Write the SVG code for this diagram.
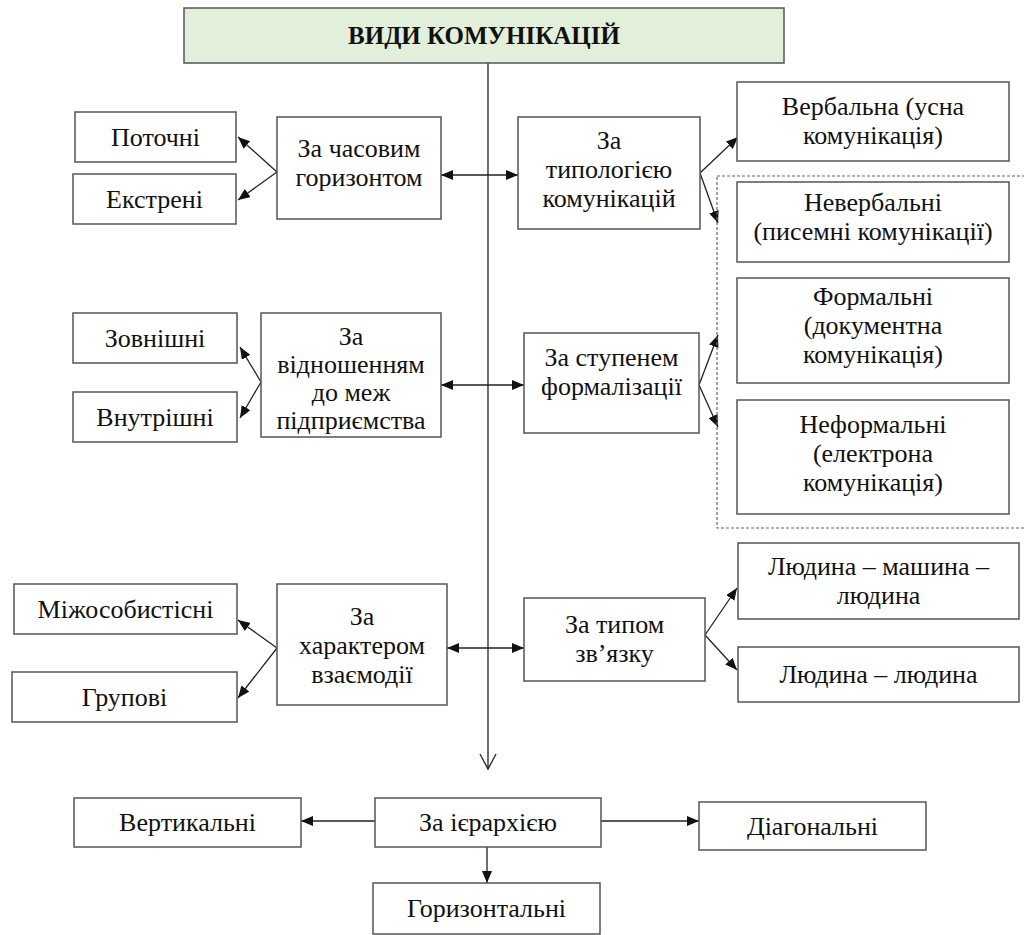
<svg xmlns="http://www.w3.org/2000/svg" width="1024" height="935" viewBox="0 0 1024 935">
<style>
.b{fill:#fff;stroke:#555;stroke-width:1.5}
.c{fill:none;stroke:#222;stroke-width:1.3}
</style>
<defs>
<marker id="a" viewBox="0 0 12 10" refX="12" refY="5" markerWidth="12" markerHeight="10" orient="auto-start-reverse" markerUnits="userSpaceOnUse"><path d="M0,0 L12,5 L0,10 z" fill="#111"/></marker>
</defs>
<rect width="1024" height="935" fill="#fff"/>

<g id="connectors">
<line class="c" x1="488" y1="63" x2="488" y2="769"/>
<polyline class="c" points="480,754 488,769 496,754"/>
<line class="c" x1="441" y1="175" x2="518" y2="175" marker-start="url(#a)" marker-end="url(#a)"/>
<line class="c" x1="441" y1="385" x2="524" y2="385" marker-start="url(#a)" marker-end="url(#a)"/>
<line class="c" x1="447" y1="648" x2="524" y2="648" marker-start="url(#a)" marker-end="url(#a)"/>
<line class="c" x1="277" y1="172" x2="238" y2="137" marker-end="url(#a)"/>
<line class="c" x1="277" y1="172" x2="238" y2="200" marker-end="url(#a)"/>
<line class="c" x1="700" y1="173" x2="738" y2="137" marker-end="url(#a)"/>
<line class="c" x1="700" y1="173" x2="718" y2="223" marker-end="url(#a)"/>
<line class="c" x1="261" y1="382" x2="240" y2="347" marker-end="url(#a)"/>
<line class="c" x1="261" y1="382" x2="240" y2="418" marker-end="url(#a)"/>
<line class="c" x1="699" y1="385" x2="718" y2="335" marker-end="url(#a)"/>
<line class="c" x1="699" y1="385" x2="718" y2="427" marker-end="url(#a)"/>
<line class="c" x1="277" y1="648" x2="238" y2="620" marker-end="url(#a)"/>
<line class="c" x1="277" y1="648" x2="238" y2="698" marker-end="url(#a)"/>
<line class="c" x1="705" y1="635" x2="737" y2="588" marker-end="url(#a)"/>
<line class="c" x1="705" y1="635" x2="737" y2="670" marker-end="url(#a)"/>
<line class="c" x1="375" y1="821" x2="301" y2="821" marker-end="url(#a)"/>
<line class="c" x1="601" y1="821" x2="699" y2="821" marker-end="url(#a)"/>
<line class="c" x1="487" y1="847" x2="487" y2="883" marker-end="url(#a)"/>
</g>

<g id="dashed-group">
<rect x="717" y="176" width="320" height="352" fill="none" stroke="#666" stroke-width="1.2" stroke-dasharray="3,2"/>
</g>

<g font-family="Liberation Serif, Times New Roman, Times, serif" font-size="26" fill="#111" text-anchor="middle">
<g id="title">
<rect x="184" y="8" width="600" height="55" fill="#e2efda" stroke="#555" stroke-width="1.5"/>
<text x="484" y="44" font-weight="bold" font-size="25">ВИДИ КОМУНІКАЦІЙ</text>
</g>

<g id="potochni"><rect class="b" x="75" y="112" width="161" height="50"/><text x="155.5" y="146">Поточні</text></g>
<g id="ekstreni"><rect class="b" x="73" y="174" width="163" height="50"/><text x="154.5" y="208">Екстрені</text></g>
<g id="chasovym"><rect class="b" x="277" y="117" width="164" height="102"/><text x="359" y="157">За часовим</text><text x="359" y="186">горизонтом</text></g>
<g id="typolohiieiu"><rect class="b" x="518" y="117" width="182" height="112"/><text x="609" y="149">За</text><text x="609" y="178">типологією</text><text x="609" y="207">комунікацій</text></g>
<g id="verbalna"><rect class="b" x="737" y="82" width="272" height="79"/><text x="873" y="115">Вербальна (усна</text><text x="873" y="144">комунікація)</text></g>
<g id="neverbalni"><rect class="b" x="737" y="182" width="272" height="80"/><text x="873" y="211">Невербальні</text><text x="873" y="240">(писемні комунікації)</text></g>

<g id="zovnishni"><rect class="b" x="73" y="313" width="164" height="50"/><text x="155" y="347">Зовнішні</text></g>
<g id="vnutrishni"><rect class="b" x="73" y="392" width="164" height="50"/><text x="155" y="426">Внутрішні</text></g>
<g id="vidnoshenniam"><rect class="b" x="261" y="313" width="180" height="124"/><text x="351" y="345">За</text><text x="351" y="373">відношенням</text><text x="351" y="401">до меж</text><text x="351" y="429">підприємства</text></g>
<g id="stupenem"><rect class="b" x="524" y="333" width="175" height="100"/><text x="611.5" y="366">За ступенем</text><text x="611.5" y="395">формалізації</text></g>
<g id="formalni"><rect class="b" x="737" y="278" width="272" height="105"/><text x="873" y="305">Формальні</text><text x="873" y="334">(документна</text><text x="873" y="363">комунікація)</text></g>
<g id="neformalni"><rect class="b" x="737" y="400" width="272" height="114"/><text x="873" y="433">Неформальні</text><text x="873" y="462">(електрона</text><text x="873" y="491">комунікація)</text></g>

<g id="mizhosobystisni"><rect class="b" x="14" y="584" width="223" height="50"/><text x="125.5" y="618">Міжособистісні</text></g>
<g id="hrupovi"><rect class="b" x="12" y="672" width="225" height="50"/><text x="124.5" y="706">Групові</text></g>
<g id="kharakterom"><rect class="b" x="277" y="584" width="170" height="121"/><text x="362" y="625">За</text><text x="362" y="654">характером</text><text x="362" y="683">взаємодії</text></g>
<g id="typom"><rect class="b" x="524" y="598" width="181" height="83"/><text x="614.5" y="633">За типом</text><text x="614.5" y="662">зв’язку</text></g>
<g id="lmh"><rect class="b" x="738" y="543" width="281" height="76"/><text x="878.5" y="575">Людина – машина –</text><text x="878.5" y="604">людина</text></g>
<g id="ll"><rect class="b" x="738" y="647" width="281" height="55"/><text x="878.5" y="683">Людина – людина</text></g>

<g id="vertykalni"><rect class="b" x="74" y="798" width="227" height="49"/><text x="187.5" y="831">Вертикальні</text></g>
<g id="iierarkhiieiu"><rect class="b" x="375" y="798" width="226" height="49"/><text x="488" y="831">За ієрархією</text></g>
<g id="diahonalni"><rect class="b" x="699" y="802" width="227" height="48"/><text x="812.5" y="835">Діагональні</text></g>
<g id="horyzontalni"><rect class="b" x="373" y="883" width="227" height="51"/><text x="486.5" y="917">Горизонтальні</text></g>
</g>
</svg>
